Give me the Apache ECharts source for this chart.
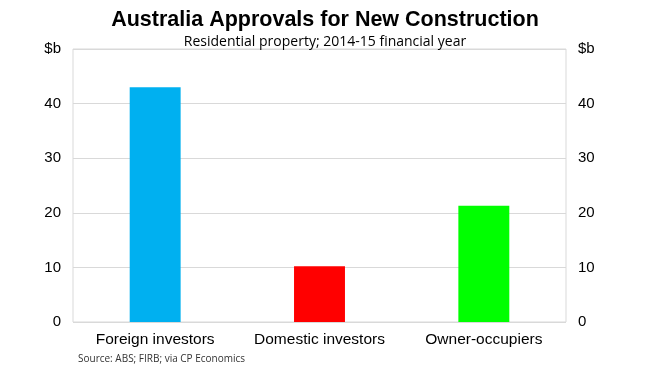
<!DOCTYPE html>
<html><head><meta charset="utf-8">
<script src="https://cdn.jsdelivr.net/npm/echarts@6/dist/echarts.min.js"></script>
<style>html,body{margin:0;padding:0;background:#fff}#c{width:650px;height:366px}</style>
</head><body><div id="c"></div>
<script>
const categories = ['Foreign investors', 'Domestic investors', 'Owner-occupiers'];
const values = [43.0, 10.2, 21.3];
const barColors = ['#00B0F0', '#FF0000', '#00FF00'];
const yTicks = [0, 10, 20, 30, 40, 50];

const chart = echarts.init(document.getElementById('c'), null, {renderer: 'canvas'});
const yLab = v => v === 50 ? '$b' : String(v);
const yAxisBase = {
  type: 'value', min: yTicks[0], max: yTicks[yTicks.length - 1], interval: 10,
  axisLine: {show: false}, axisTick: {show: false},
  axisLabel: {formatter: yLab, color: '#000', fontSize: 15, fontFamily: 'Liberation Sans, Arial', margin: 12}
};
chart.setOption({
  animation: false,
  title: [
    {text: 'Australia Approvals for New Construction', left: 'center', top: 4,
     textStyle: {fontSize: 21.5, fontWeight: 'bold', color: '#000', fontFamily: 'Liberation Sans, Arial'}},
    {text: 'Residential property; 2014-15 financial year', left: 'center', top: 30,
     textStyle: {fontSize: 14, fontWeight: 'normal', color: '#000', fontFamily: 'Open Sans, Noto Sans'}},
    {text: 'Source: ABS; FIRB; via CP Economics', left: 73, top: 349,
     textStyle: {fontSize: 10, fontWeight: 'normal', color: '#333', fontFamily: 'Open Sans, Noto Sans'}}
  ],
  grid: {left: 73, right: 84, top: 49, bottom: 44, show: true, borderColor: '#d9d9d9', borderWidth: 1, containLabel: false},
  xAxis: {
    type: 'category', data: categories,
    axisLine: {show: false}, axisTick: {show: false},
    axisLabel: {interval: 0, color: '#000', fontSize: 15.5, fontFamily: 'Liberation Sans, Arial', margin: 10}
  },
  yAxis: [
    Object.assign({}, yAxisBase, {position: 'left', splitLine: {show: true, lineStyle: {color: '#d9d9d9', width: 1}}}),
    Object.assign({}, yAxisBase, {position: 'right', splitLine: {show: false}})
  ],
  series: [{
    type: 'bar', barWidth: '31%',
    data: values.map((v, i) => ({value: v, itemStyle: {color: barColors[i]}}))
  }]
});
</script></body></html>
